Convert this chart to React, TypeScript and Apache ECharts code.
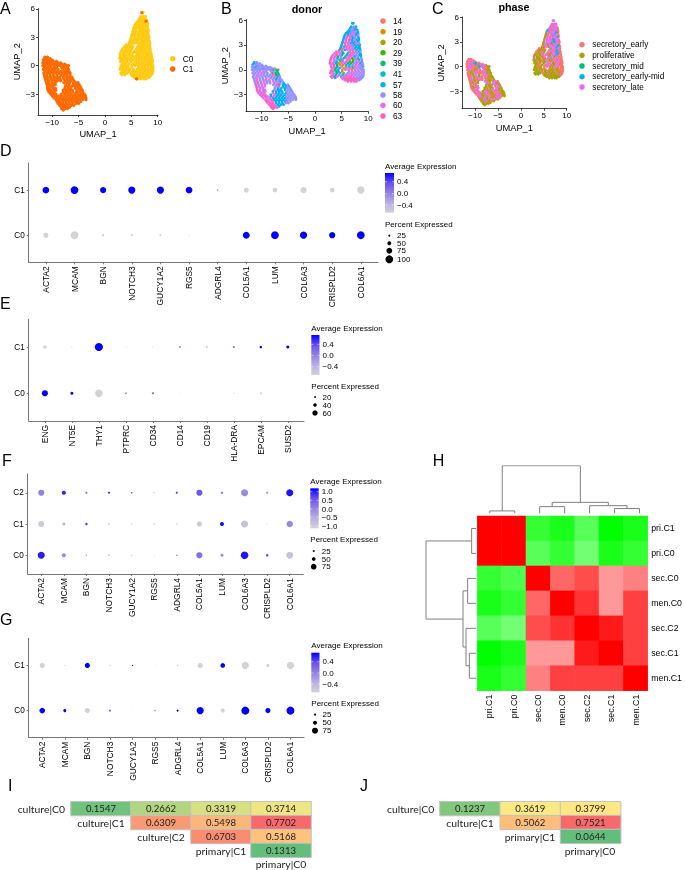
import React, { useEffect, useRef } from "react";
import * as echarts from "echarts";

const FONT = "'Liberation Sans', Arial, sans-serif";

/* ---------- UMAP data ---------- */
const c0Y = [5.6, 5.2, 5.0, 4.8, 4.6, 4.4, 4.2, 4.0, 3.8, 3.6, 3.4, 3.2, 3.0, 2.8, 2.6, 2.4, 2.2, 2.0, 1.8, 1.6, 1.4, 1.2, 1.0, 0.8, 0.6, 0.4, 0.2, 0.0, -0.2, -0.4, -0.6, -0.8, -0.95, -1.1, -1.25, -1.4];
const c0X = [
  [7.0, 7.2],
  [6.8, 7.3, 7.7],
  [6.6, 7.1, 7.6],
  [6.4, 6.9, 7.4, 7.9],
  [6.1, 6.6, 7.1, 7.6, 8.0],
  [5.8, 6.3, 6.8, 7.3, 7.8, 8.1],
  [5.6, 6.2, 6.7, 7.2, 7.7, 8.1],
  [5.5, 6.0, 6.5, 7.0, 7.5, 8.1],
  [5.4, 5.9, 6.6, 7.1, 7.6, 8.2],
  [5.3, 5.8, 6.4, 6.9, 7.4, 7.9, 8.2],
  [5.2, 5.8, 6.4, 7.0, 7.5, 8.1],
  [5.1, 5.6, 6.2, 6.7, 7.2, 7.7, 8.3],
  [5.0, 5.7, 6.3, 6.9, 7.4, 8.0, 8.4],
  [4.9, 5.5, 6.0, 6.6, 7.1, 7.7, 8.3],
  [4.8, 5.3, 5.9, 6.4, 7.0, 7.5, 8.1, 8.4],
  [4.6, 5.0, 5.6, 6.1, 6.7, 7.2, 7.8, 8.5],
  [4.0, 4.5, 5.1, 6.5, 7.1, 7.6, 8.2, 8.5],
  [3.7, 4.2, 4.8, 5.3, 6.2, 6.8, 7.3, 7.9, 8.5],
  [3.4, 4.0, 4.6, 5.1, 6.0, 6.6, 7.1, 7.7, 8.3, 8.6],
  [3.2, 3.8, 4.3, 4.9, 5.7, 6.3, 6.8, 7.4, 8.0, 8.6],
  [3.0, 3.6, 4.2, 4.8, 5.4, 5.9, 6.4, 7.0, 7.6, 8.1, 8.7],
  [2.9, 3.5, 4.0, 4.6, 5.1, 6.1, 6.6, 7.2, 7.8, 8.3, 8.8],
  [2.9, 3.6, 4.1, 4.8, 5.3, 5.9, 6.5, 7.1, 7.7, 8.2, 8.8],
  [2.8, 3.3, 3.9, 4.4, 5.0, 5.6, 6.2, 6.8, 7.4, 7.9, 8.5, 8.9],
  [3.0, 3.5, 4.1, 4.7, 5.3, 5.9, 6.5, 7.1, 7.7, 8.3, 8.8, 9.0],
  [3.0, 3.6, 4.2, 5.0, 5.8, 6.4, 7.0, 7.5, 8.1, 8.6, 9.0],
  [3.3, 3.9, 4.6, 5.4, 6.0, 6.6, 7.2, 7.8, 8.4, 8.9],
  [3.1, 3.7, 4.3, 5.1, 5.7, 6.3, 6.9, 7.5, 8.1, 8.7, 9.1],
  [3.0, 3.4, 4.0, 4.4, 5.1, 6.4, 7.0, 7.6, 8.2, 8.8, 9.1],
  [2.9, 3.5, 4.1, 4.7, 5.4, 6.1, 6.7, 7.3, 7.9, 8.5, 9.1],
  [3.3, 3.9, 4.5, 5.2, 5.8, 6.4, 7.0, 7.6, 8.2, 8.8, 9.1],
  [3.0, 3.6, 4.2, 4.9, 5.5, 6.1, 6.7, 7.3, 7.9, 8.5, 9.0],
  [3.2, 3.8, 5.0, 5.5, 6.0, 6.6, 7.2, 7.8, 8.3, 8.8],
  [5.2, 5.7, 6.3, 6.9, 7.5, 8.0, 8.6],
  [5.6, 6.0, 6.6, 7.2, 7.7, 8.3],
  [6.2, 6.8, 7.4, 7.8],
];
const c0Donor = ["66", "676", "676", "6766", "66786", "667866", "669767", "698676", "689676", "6896766", "698666", "6986697", "6997666", "6699766", "69787666", "69687966", "89698767", "897468976", "8974698766", "9847698676", "98476983767", "98746893767", "97628943786", "976289437867", "894016578767", "89401657876", "8460791877", "84607918777", "98462787877", "98462787877", "96857897777", "96857897777", "9689998777", "8999987", "899987", "9998"];
const c0Phase = ["44", "404", "404", "4044", "40441", "304041", "104430", "140430", "140340", "1404430", "044304", "0440340", "1440340", "1403040", "04140430", "01404430", "01014040", "010140430", "0101404300", "0104010430", "10104014300", "01014041400", "01101410400", "101014104000", "101014100400", "11010410400", "1010401400", "10104014000", "11010101000", "11011010100", "11010110100", "11101011000", "1101011000", "1010110", "101011", "1111"];

const c1Y = [0.9, 0.75, 0.6, 0.45, 0.3, 0.15, 0.0, -0.2, -0.4, -0.6, -0.8, -1.0, -1.2, -1.4, -1.6, -1.8, -2.0, -2.2, -2.4, -2.6, -2.8, -3.0, -3.2, -3.4, -3.6, -3.8, -4.0, -4.2, -4.4, -4.55, -4.7];
const c1X = [
  [-11.4, -10.9],
  [-11.5, -11.0, -10.4],
  [-11.7, -11.1, -10.6, -10.0],
  [-11.6, -11.0, -10.4, -9.8, -9.2],
  [-11.8, -11.2, -10.6, -10.0, -9.5, -8.9, -8.4],
  [-11.5, -10.9, -10.3, -9.8, -9.2, -8.7, -8.1, -7.6],
  [-11.8, -11.3, -10.7, -10.2, -9.6, -9.0, -8.5, -7.9, -7.3, -6.9],
  [-11.5, -10.9, -10.3, -9.7, -9.2, -8.2, -7.7, -7.1],
  [-11.7, -11.2, -10.6, -10.0, -9.5, -8.9, -8.0, -7.4, -6.9],
  [-11.4, -10.8, -10.2, -9.6, -9.0, -8.4, -7.8, -7.3, -6.8],
  [-11.6, -11.0, -10.5, -9.9, -9.3, -8.7, -8.1, -7.5, -7.0, -6.6],
  [-11.5, -11.0, -10.4, -9.8, -9.1, -8.3, -7.7, -7.2, -6.6],
  [-11.4, -10.9, -10.3, -9.7, -9.2, -8.6, -7.9, -7.3, -6.8, -6.3],
  [-11.3, -10.8, -10.2, -9.6, -9.0, -8.5, -7.8, -7.2, -6.6, -6.1],
  [-11.2, -10.7, -10.1, -9.5, -9.0, -8.4, -7.6, -7.0, -6.5, -5.9],
  [-11.1, -10.6, -10.0, -9.4, -7.8, -7.2, -6.7, -6.0, -5.6, -5.1],
  [-11.0, -10.5, -9.9, -9.4, -7.4, -6.8, -6.0, -5.4, -4.9],
  [-10.9, -10.3, -9.8, -7.5, -6.9, -6.3, -5.7, -5.2, -4.7],
  [-10.9, -10.4, -9.8, -9.4, -7.6, -7.0, -6.5, -5.6, -5.0, -4.5],
  [-10.8, -10.3, -9.7, -9.3, -7.9, -7.3, -6.7, -6.2, -5.3, -4.7, -4.3],
  [-10.6, -10.1, -9.6, -7.9, -7.3, -6.7, -6.1, -5.4, -4.8, -4.2],
  [-10.3, -9.8, -9.3, -8.3, -7.6, -7.0, -6.4, -5.7, -5.1, -4.5, -3.9],
  [-10.0, -9.4, -8.9, -8.3, -7.8, -7.2, -6.6, -6.0, -5.4, -4.8, -4.2, -3.7],
  [-9.7, -9.1, -8.5, -7.9, -7.4, -6.8, -6.2, -5.6, -5.1, -4.5, -3.9, -3.6],
  [-9.3, -8.8, -8.2, -7.7, -7.1, -6.5, -5.9, -5.3, -4.8, -4.2, -3.6],
  [-9.1, -8.6, -8.0, -7.4, -6.8, -6.2, -5.6, -5.2, -4.6],
  [-8.9, -8.4, -7.9, -7.3, -6.7, -6.1, -5.5, -5.0],
  [-8.6, -8.1, -7.6, -7.0, -6.4, -5.9],
  [-8.3, -7.8, -7.3, -6.7],
  [-8.2, -7.6, -7.1],
  [-7.9],
];
const c1Donor = ["67", "677", "6777", "76777", "7677777", "77767777", "7777777342", "77787774", "778777436", "778777836", "7787777867", "787787767", "7877787677", "7978778767", "7978777876", "9788796667", "978879666", "978766677", "9878766677", "89786666777", "8978666677", "89868666777", "898686667777", "898666667777", "98966667777", "989666677", "89966677", "899666", "9986", "998", "9"];
const c1Phase = ["00", "040", "0400", "04030", "0403040", "00401040", "0400034011", "04010401", "040104011", "010400410", "0104004101", "001410401", "0014104011", "0410400101", "0410400101", "0101401040", "010140410", "040110401", "0104101040", "01041010401", "0401104011", "04014010401", "040140104011", "041040104010", "04104010401", "014101040", "01410401", "104101", "1011", "110", "1"];
const strayC0 = [[-7.1, 0.0]];
const strayC1 = [[7.0, 5.6], [7.8, 4.7], [6.0, -1.4]];

const clusterNames = ["C0", "C1"];
const clusterColors = ["#FFCB12", "#FF6A00"];
const donorNames = ["14", "19", "20", "29", "39", "41", "57", "58", "60", "63"];
const donorColors = ["#F8766D", "#D89000", "#A3A500", "#39B600", "#00BF7D", "#00BFC4", "#00B0F6", "#9590FF", "#E76BF3", "#FF62BC"];
const phaseNames = ["secretory_early", "proliferative", "secretory_mid", "secretory_early-mid", "secretory_late"];
const phaseColors = ["#F8766D", "#A3A500", "#00BF7D", "#00B0F6", "#E76BF3"];

/* ---------- dot plots: percent expressed and average expression ---------- */
const genesD = ["ACTA2", "MCAM", "BGN", "NOTCH3", "GUCY1A2", "RGS5", "ADGRL4", "COL5A1", "LUM", "COL6A3", "CRISPLD2", "COL6A1"];
const genesE = ["ENG", "NT5E", "THY1", "PTPRC", "CD34", "CD14", "CD19", "HLA-DRA", "EPCAM", "SUSD2"];
const genesF = ["ACTA2", "MCAM", "BGN", "NOTCH3", "GUCY1A2", "RGS5", "ADGRL4", "COL5A1", "LUM", "COL6A3", "CRISPLD2", "COL6A1"];

const pctD = [
  [65, 100, 30, 25, 25, 12, 6, 87, 100, 92, 80, 100],
  [87, 100, 80, 92, 92, 87, 12, 65, 60, 80, 60, 95],
];
const expD = [
  [-0.7, -0.7, -0.7, -0.7, -0.7, -0.7, -0.7, 0.7, 0.7, 0.7, 0.7, 0.7],
  [0.7, 0.7, 0.7, 0.7, 0.7, 0.7, 0.7, -0.7, -0.7, -0.7, -0.7, -0.7],
];
const pctE = [
  [68, 34, 85, 18, 22, 9, 6, 12, 22, 6],
  [40, 12, 90, 8, 12, 18, 14, 18, 28, 34],
];
const expE = [
  [0.7, 0.7, -0.7, 0.1, 0.3, -0.5, -0.7, -0.7, -0.7, -0.7],
  [-0.7, -0.7, 0.7, -0.3, -0.7, 0.2, 0, 0.4, 0.7, 0.7],
];
const pctF = [
  [95, 55, 20, 20, 14, 11, 20, 82, 41, 100, 34, 95],
  [82, 41, 34, 20, 14, 16, 16, 68, 55, 95, 14, 88],
  [82, 55, 27, 27, 20, 14, 27, 82, 34, 95, 27, 95],
];
const expF = [
  [0.95, -0.1, -0.4, -0.6, -0.6, -0.8, 0, 0.2, -0.1, 1, 0.7, -0.9],
  [-1, -0.6, 0.7, -0.8, -0.8, -0.6, -0.8, -1, 1, -0.9, -0.8, -0.1],
  [0, 0.9, 0.2, 0.8, 0.6, -0.2, 0.7, 0.5, -0.1, -0.1, -0.2, 1],
];
const pctG = [
  [70, 38, 64, 26, 8, 19, 26, 90, 51, 100, 64, 100],
  [64, 13, 64, 13, 15, 10, 13, 64, 58, 90, 38, 90],
];
const expG = [
  [0.7, 0.7, -0.7, 0.3, -0.7, -0.1, 0.7, 0.7, -0.7, 0.7, 0.7, 0.7],
  [-0.7, -0.7, 0.7, -0.3, 0.7, -0.7, -0.3, -0.7, 0.7, -0.7, -0.7, -0.7],
];
const gradientStops = ["#D3D3D3", "#B9AFE6", "#9480E2", "#6A50EC", "#0000FF"];

/* ---------- clustered heatmap ---------- */
const heatNames = ["pri.C1", "pri.C0", "sec.C0", "men.C0", "sec.C2", "sec.C1", "men.C1"];
const heatValues = [
  [1, 1, -0.8, -0.9, -0.65, -1, -0.9],
  [1, 1, -0.65, -0.8, -0.55, -0.9, -0.8],
  [-0.8, -0.7, 1, 0.6, 0.7, 0.4, 0.5],
  [-0.9, -0.8, 0.6, 1, 0.8, 0.4, 0.75],
  [-0.65, -0.55, 0.7, 0.8, 1, 0.9, 0.75],
  [-1, -0.9, 0.4, 0.4, 0.9, 1, 0.75],
  [-0.9, -0.8, 0.5, 0.75, 0.75, 0.75, 1],
];
// [left leaf position, left height, right leaf position, right height, merge height]
const topMerges = [
  [0.5, 0, 1.5, 0, 0.05],
  [2.5, 0, 3.5, 0, 0.14],
  [5.5, 0, 6.5, 0, 0.1],
  [4.5, 0, 6.0, 0.1, 0.16],
  [3.0, 0.14, 5.25, 0.16, 0.23],
  [1.0, 0.05, 4.13, 0.23, 1],
];
const leftMerges = [
  [0.5, 0, 1.5, 0, 0.087],
  [2.5, 0, 3.5, 0, 0.167],
  [5.5, 0, 6.5, 0, 0.133],
  [4.5, 0, 6.0, 0.133, 0.2],
  [3.0, 0.167, 5.25, 0.2, 0.26],
  [1.0, 0.087, 4.13, 0.26, 1],
];

/* ---------- triangular tables ---------- */
const tableIValues = [
  [0.1547, 0.2662, 0.3319, 0.3714],
  [null, 0.6309, 0.5498, 0.7702],
  [null, null, 0.6703, 0.5168],
  [null, null, null, 0.1313],
];
const tableILabels = ["culture|C0", "culture|C1", "culture|C2", "primary|C1", "primary|C0"];
const tableJValues = [
  [0.1237, 0.3619, 0.3799],
  [null, 0.5062, 0.7521],
  [null, null, 0.0644],
];
const tableJLabels = ["culture|C0", "culture|C1", "primary|C1", "primary|C0"];

/* ---------- helpers ---------- */
function groupPoints(ys: number[], xs: number[][], labels: string[], n: number) {
  const out: number[][][] = Array.from({ length: n }, () => []);
  ys.forEach((y, r) => xs[r].forEach((x, i) => out[Number(labels[r][i])].push([x, y])));
  return out;
}
const minusFmt = (v: number) => String(v).replace("-", "\u2212");

const grids: any[] = [];
const xAxes: any[] = [];
const yAxes: any[] = [];
const series: any[] = [];
const visualMaps: any[] = [];
const graphics: any[] = [];

function text(t: string, x: number, y: number, size: number, extra: any = {}) {
  graphics.push({
    type: "text",
    silent: true,
    x,
    y,
    style: {
      text: t,
      x: 0,
      y: 0,
      fontSize: size,
      fontFamily: extra.family || FONT,
      fontWeight: extra.weight || "normal",
      fill: extra.fill || "#000",
      align: extra.align || "left",
      verticalAlign: extra.valign || "middle",
    },
  });
}
function dot(x: number, y: number, d: number, fill: string) {
  graphics.push({ type: "circle", silent: true, shape: { cx: x, cy: y, r: d / 2 }, style: { fill } });
}

function addGrid(box: any, xAxis: any, yAxis: any) {
  const i = grids.length;
  grids.push({ ...box, containLabel: false, show: false });
  xAxes.push({ gridIndex: i, splitLine: { show: false }, ...xAxis });
  yAxes.push({ gridIndex: i, splitLine: { show: false }, ...yAxis });
  return i;
}

function umapAxes(box: any, xr: number[], yr: number[], nameGapX: number, nameGapY: number) {
  const lineStyle = { color: "#111", width: 0.8 };
  return addGrid(
    box,
    {
      type: "value",
      min: xr[0],
      max: xr[1],
      name: "UMAP_1",
      nameLocation: "middle",
      nameGap: nameGapX,
      nameTextStyle: { fontFamily: FONT, fontSize: 9.3, color: "#000" },
      axisLine: { onZero: false, lineStyle },
      axisTick: { length: 2, lineStyle, customValues: [-10, -5, 0, 5, 10] },
      axisLabel: { fontFamily: FONT, fontSize: 8, color: "#000", margin: 3, customValues: [-10, -5, 0, 5, 10], formatter: minusFmt },
    },
    {
      type: "value",
      min: yr[0],
      max: yr[1],
      name: "UMAP_2",
      nameLocation: "middle",
      nameGap: nameGapY,
      nameTextStyle: { fontFamily: FONT, fontSize: 9.3, color: "#000" },
      axisLine: { onZero: false, lineStyle },
      axisTick: { length: 2, lineStyle, customValues: [-3, 0, 3, 6] },
      axisLabel: { fontFamily: FONT, fontSize: 8, color: "#000", margin: 3, customValues: [-3, 0, 3, 6], formatter: minusFmt },
    },
  );
}
function addScatter(grid: number, groups: number[][][], colors: string[], size: number) {
  groups.forEach((data, k) =>
    series.push({
      type: "scatter",
      xAxisIndex: grid,
      yAxisIndex: grid,
      data,
      symbolSize: size,
      itemStyle: { color: colors[k], opacity: 1 },
      silent: true,
    }),
  );
}

function dotPanel(cfg: any) {
  const { box, genes, rows, pct, exp, range, scale, legend, bars, sizes } = cfg;
  const lineStyle = { color: "#777", width: 1 };
  const n = genes.length;
  const xs = genes.map((_: string, i: number) => i);
  const ys = rows.map((_: string, i: number) => i);
  const g = addGrid(
    box,
    {
      type: "value",
      min: -0.6,
      max: n - 0.4,
      axisLine: { onZero: false, lineStyle },
      axisTick: { length: 2, lineStyle, customValues: xs },
      axisLabel: { fontFamily: FONT, fontSize: 8.4, color: "#000", margin: 4, rotate: 90, customValues: xs, formatter: (v: number) => genes[v] },
    },
    {
      type: "value",
      min: -0.6,
      max: rows.length - 0.4,
      axisLine: { onZero: false, lineStyle },
      axisTick: { length: 2, lineStyle, customValues: ys },
      axisLabel: { fontFamily: FONT, fontSize: 8.2, color: "#000", margin: 4, customValues: ys, formatter: (v: number) => rows[v] },
    },
  );
  const data: any[] = [];
  pct.forEach((row: number[], r: number) => row.forEach((p, c) => data.push([c, r, exp[r][c], p])));
  const si = series.length;
  series.push({
    type: "scatter",
    xAxisIndex: g,
    yAxisIndex: g,
    data,
    silent: true,
    symbolSize: (v: number[]) => Math.max(v[3] * scale, 0.4),
    itemStyle: { opacity: 1 },
    encode: { x: 0, y: 1 },
  });
  visualMaps.push({
    type: "continuous",
    show: false,
    seriesIndex: si,
    dimension: 2,
    min: range[0],
    max: range[1],
    inRange: { color: gradientStops },
  });
  // colour bar
  const L = legend;
  text("Average Expression", L.x, L.titleY, 8);
  graphics.push({
    type: "rect",
    silent: true,
    shape: { x: L.x, y: L.barTop, width: L.barW, height: L.barH },
    style: {
      fill: {
        type: "linear",
        x: 0,
        y: 0,
        x2: 0,
        y2: 1,
        colorStops: [...gradientStops].reverse().map((color, i) => ({ offset: i / (gradientStops.length - 1), color })),
      },
    },
  });
  bars.forEach((b: number, i: number) => {
    const lab = minusFmt(b).replace(/^(\u2212?\d)$/, "$1.0");
    const y = L.barYs[i];
    text(lab, L.x + L.barW + 3, y, 8);
    graphics.push({ type: "line", silent: true, shape: { x1: L.x, y1: y, x2: L.x + 2, y2: y }, style: { stroke: "#fff", lineWidth: 0.5 } });
    graphics.push({ type: "line", silent: true, shape: { x1: L.x + L.barW - 2, y1: y, x2: L.x + L.barW, y2: y }, style: { stroke: "#fff", lineWidth: 0.5 } });
  });
  text("Percent Expressed", L.x, L.pctTitleY, 8);
  sizes.forEach((s: number, i: number) => {
    dot(L.dotX, L.dotYs[i], s * scale, "#000");
    text(String(s), L.x + L.barW + 3, L.dotYs[i], 8);
  });
}

function mergeSeries(grid: number, merges: number[][], horizontal: boolean) {
  merges.forEach(([a, ha, b, hb, h]) => {
    const pts = [[a, ha], [a, h], [b, h], [b, hb]];
    series.push({
      type: "line",
      xAxisIndex: grid,
      yAxisIndex: grid,
      silent: true,
      showSymbol: false,
      symbol: "none",
      lineStyle: { color: "#808080", width: 1 },
      data: horizontal ? pts.map(([p, q]) => [q, p]) : pts,
    });
  });
}

function excelColor(v: number, min: number, mid: number, max: number) {
  const lo = ["#63BE7B", "#FFEB84"];
  const hi = ["#FFEB84", "#F8696B"];
  if (v <= mid) return echarts.color.lerp((v - min) / (mid - min), lo);
  return echarts.color.lerp((v - mid) / (max - mid), hi);
}
function tablePanel(box: any, values: (number | null)[][], mid: number) {
  const hidden = { axisLine: { show: false }, axisTick: { show: false }, axisLabel: { show: false } };
  const g = addGrid(
    box,
    { type: "category", data: values[0].map((_, i) => "c" + i), ...hidden },
    { type: "category", inverse: true, data: values.map((_, i) => "r" + i), ...hidden },
  );
  const flat = values.flat().filter((v) => v !== null) as number[];
  const lo = Math.min(...flat);
  const hi = Math.max(...flat);
  const data: any[] = [];
  values.forEach((row, r) =>
    row.forEach((v, c) => {
      if (v !== null) data.push([c, r, v]);
    }),
  );
  const si = series.length;
  series.push({
    type: "heatmap",
    xAxisIndex: g,
    yAxisIndex: g,
    silent: true,
    data,
    itemStyle: { borderColor: "#C2C2C2", borderWidth: 1 },
    label: {
      show: true,
      fontFamily: "Lato",
      fontSize: 9.6,
      color: "#222",
      formatter: (p: any) => p.value[2].toFixed(4),
    },
  });
  const steps = [0, 1, 2, 3, 4, 5, 6, 7, 8, 9, 10, 11, 12, 13, 14, 15, 16];
  visualMaps.push({
    type: "continuous",
    show: false,
    seriesIndex: si,
    dimension: 2,
    min: lo,
    max: hi,
    inRange: { color: steps.map((s) => excelColor(lo + ((hi - lo) * s) / 16, lo, mid, hi)) },
  });
}

/* ---------- A, B, C ---------- */
const gA = umapAxes({ left: 38, top: 8.5, width: 120, height: 106.5 }, [-12.7, 10.07], [-5.22, 6.05], 14, 16.5);
addScatter(
  gA,
  [
    [...c0Y.flatMap((y, r) => c0X[r].map((x) => [x, y])), ...strayC0],
    [...c1Y.flatMap((y, r) => c1X[r].map((x) => [x, y])), ...strayC1],
  ],
  clusterColors,
  3.2,
);
const gB = umapAxes({ left: 246, top: 19.6, width: 122.3, height: 92.1 }, [-12.95, 10], [-5.05, 6.05], 14.5, 14.5);
const donorGroups = groupPoints(c0Y, c0X, c0Donor, 10).map((g, i) => [...g, ...groupPoints(c1Y, c1X, c1Donor, 10)[i]]);
addScatter(gB, donorGroups, donorColors, 2.8);
const gC = umapAxes({ left: 462, top: 17, width: 104.7, height: 91.7 }, [-12.86, 10], [-5.14, 6.04], 15, 17);
const phaseGroups = groupPoints(c0Y, c0X, c0Phase, 5).map((g, i) => [...g, ...groupPoints(c1Y, c1X, c1Phase, 5)[i]]);
addScatter(gC, phaseGroups, phaseColors, 2.8);

text("donor", 307, 9, 10.8, { weight: "bold", align: "center" });
text("phase", 514, 7, 10.8, { weight: "bold", align: "center" });

[58.7, 69].forEach((y, i) => {
  dot(172.7, y, 5.5, clusterColors[i]);
  text(clusterNames[i], 182.7, y, 8.3);
});
[21, 31.7, 42.3, 52.7, 63.3, 74, 84.7, 95, 105.3, 116].forEach((y, i) => {
  dot(383, y, 5.5, donorColors[i]);
  text(donorNames[i], 393, y, 8.3);
});
[44.7, 55.3, 66, 76.7, 87].forEach((y, i) => {
  dot(582, y, 5.5, phaseColors[i]);
  text(phaseNames[i], 592.3, y, 8.2);
});

/* ---------- D, E, F, G ---------- */
dotPanel({
  box: { left: 28.7, top: 163, width: 349.3, height: 99.3 },
  genes: genesD,
  rows: ["C0", "C1"],
  pct: pctD,
  exp: expD,
  range: [-0.7, 0.7],
  scale: 0.078,
  bars: [0.4, 0, -0.4],
  sizes: [25, 50, 75, 100],
  legend: { x: 385, titleY: 166, barTop: 173, barW: 9, barH: 39.7, barYs: [181.7, 193.7, 205], pctTitleY: 224.3, dotX: 389.3, dotYs: [235.7, 243.3, 250.7, 259.3] },
});
dotPanel({
  box: { left: 28.7, top: 319.3, width: 275.3, height: 101.7 },
  genes: genesE,
  rows: ["C0", "C1"],
  pct: pctE,
  exp: expE,
  range: [-0.7, 0.7],
  scale: 0.09,
  bars: [0.4, 0, -0.4],
  sizes: [20, 40, 60],
  legend: { x: 311.3, titleY: 328.3, barTop: 335, barW: 8.2, barH: 40, barYs: [344.3, 355.3, 366.7], pctTitleY: 386, dotX: 315, dotYs: [397, 405, 413] },
});
dotPanel({
  box: { left: 27.7, top: 474, width: 275.6, height: 100 },
  genes: genesF,
  rows: ["C0", "C1", "C2"],
  pct: pctF,
  exp: expF,
  range: [-1.15, 1.15],
  scale: 0.075,
  bars: [1, 0.5, 0, -0.5, -1],
  sizes: [25, 50, 75],
  legend: { x: 310.3, titleY: 481.7, barTop: 488.3, barW: 8.4, barH: 40, barYs: [491.7, 500.3, 509, 517, 526], pctTitleY: 539.3, dotX: 313.7, dotYs: [551, 559, 566.7] },
});
dotPanel({
  box: { left: 28.7, top: 638.3, width: 275.3, height: 99.4 },
  genes: genesF,
  rows: ["C0", "C1"],
  pct: pctG,
  exp: expG,
  range: [-0.7, 0.7],
  scale: 0.08,
  bars: [0.4, 0, -0.4],
  sizes: [25, 50, 75],
  legend: { x: 311.3, titleY: 645.7, barTop: 652.7, barW: 8.2, barH: 39.6, barYs: [661.7, 673, 684], pctTitleY: 703.3, dotX: 315, dotYs: [714.7, 722.7, 730.7] },
});

/* ---------- H ---------- */
const gH = addGrid(
  { left: 477.3, top: 516, width: 174.7, height: 174.7 },
  {
    type: "category",
    data: heatNames,
    axisLine: { show: false },
    axisTick: { show: false },
    axisLabel: { interval: 0, rotate: 90, margin: 4, fontFamily: FONT, fontSize: 8.8, color: "#000" },
  },
  {
    type: "category",
    inverse: true,
    position: "right",
    data: heatNames,
    axisLine: { show: false },
    axisTick: { show: false },
    axisLabel: { interval: 0, margin: 3.5, fontFamily: FONT, fontSize: 8.8, color: "#000" },
  },
);
const heatIndex = series.length;
series.push({
  type: "heatmap",
  xAxisIndex: gH,
  yAxisIndex: gH,
  silent: true,
  data: heatValues.flatMap((row, r) => row.map((v, c) => [c, r, v])),
});
visualMaps.push({
  type: "continuous",
  show: false,
  seriesIndex: heatIndex,
  dimension: 2,
  min: -1,
  max: 1,
  inRange: { color: ["#00FF00", "#FFFFFF", "#FF0000"] },
});
const noAxis = { axisLine: { show: false }, axisTick: { show: false }, axisLabel: { show: false } };
const gTop = addGrid(
  { left: 477.3, top: 465.7, width: 174.7, height: 47.6 },
  { type: "value", min: 0, max: 7, ...noAxis },
  { type: "value", min: 0, max: 1, ...noAxis },
);
mergeSeries(gTop, topMerges, false);
const gLeft = addGrid(
  { left: 426, top: 516, width: 50, height: 174.7 },
  { type: "value", min: 0, max: 1, inverse: true, ...noAxis },
  { type: "value", min: 0, max: 7, inverse: true, ...noAxis },
);
mergeSeries(gLeft, leftMerges, true);

/* ---------- I, J ---------- */
tablePanel({ left: 71, top: 801.7, width: 240, height: 55.6 }, tableIValues, 0.4);
tablePanel({ left: 440, top: 801.7, width: 180.7, height: 41.6 }, tableJValues, 0.37);
const TBL = { family: "Lato", fill: "#222" };
text(tableILabels[0], 65, 809, 10.4, { ...TBL, align: "right" });
[[101, 823], [161, 836.7], [221, 851], [281, 864]].forEach(([x, y], i) => text(tableILabels[i + 1], x, y, 10.4, { ...TBL, align: "center" }));
text(tableJLabels[0], 434.3, 809, 10.4, { ...TBL, align: "right" });
[[470, 823], [530, 836.7], [590, 851]].forEach(([x, y], i) => text(tableJLabels[i + 1], x, y, 10.4, { ...TBL, align: "center" }));

/* ---------- panel letters ---------- */
const panelLetters: [string, number, number][] = [
  ["A", 0, 8], ["B", 221, 8], ["C", 432, 8], ["D", 0, 150.5], ["E", 0, 303], ["F", 2, 460.5], ["G", 0, 619.5], ["H", 432.7, 460.5], ["I", 8, 785], ["J", 360, 785],
];
panelLetters.forEach(([t, x, y]) => text(t, x, y, 16, {}));

const option = {
  animation: false,
  backgroundColor: "#fff",
  grid: grids,
  xAxis: xAxes,
  yAxis: yAxes,
  visualMap: visualMaps,
  series,
  graphic: { elements: graphics },
};

export default function App() {
  const ref = useRef<HTMLDivElement>(null);
  useEffect(() => {
    const chart = echarts.init(ref.current!, undefined, { renderer: "svg" });
    chart.setOption(option as any);
    return () => chart.dispose();
  }, []);
  return <div ref={ref} style={{ position: "absolute", left: 0, top: 0, width: 685, height: 870, filter: "blur(0.3px)" }} />;
}
